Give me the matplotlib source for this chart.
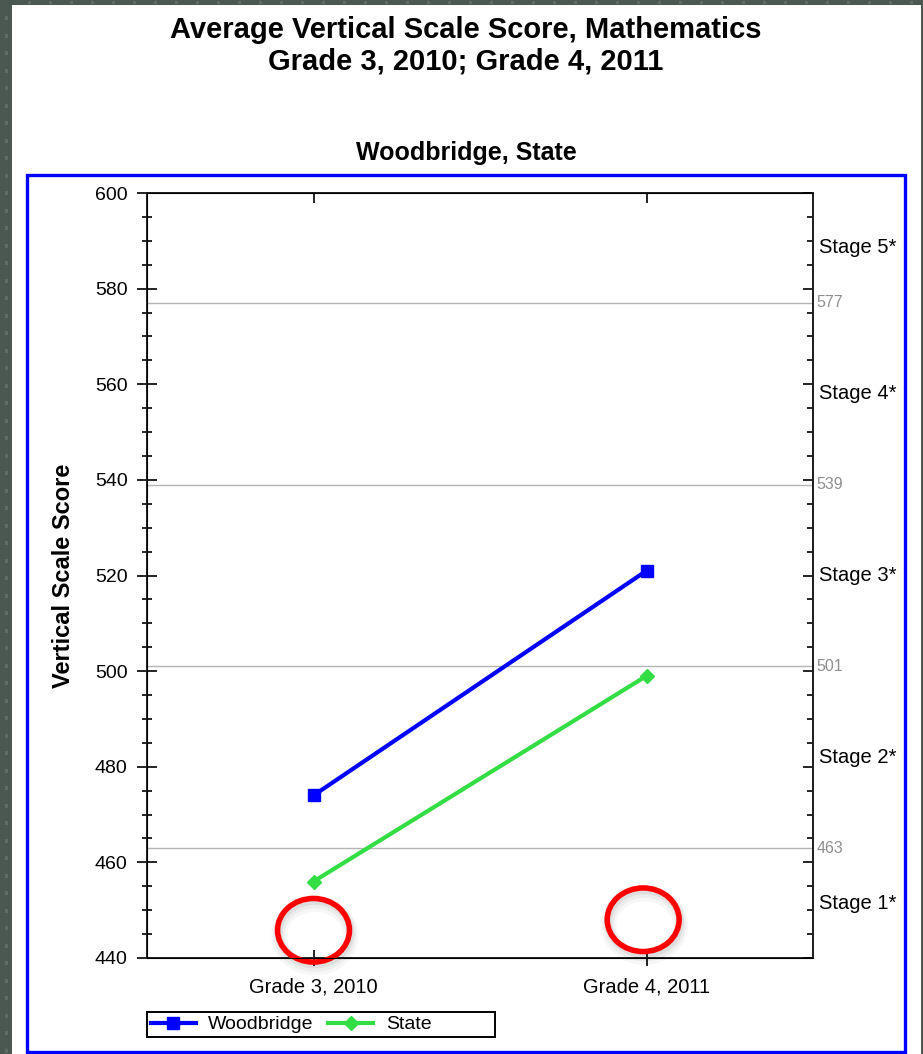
import numpy as np
import matplotlib.pyplot as plt
from matplotlib.patches import Rectangle, Ellipse
from matplotlib.ticker import MultipleLocator
import matplotlib.transforms as mtransforms

plt.rcParams['font.family'] = ['Liberation Sans', 'DejaVu Sans']

# data
grades = ['Grade 3, 2010', 'Grade 4, 2011']
woodbridge = [474, 521]
state = [456, 499]
cut_scores = [463, 501, 539, 577]
stages = ['Stage 1*', 'Stage 2*', 'Stage 3*', 'Stage 4*', 'Stage 5*']
y_min, y_max = 440, 600
# red circles drawn over the picture (x index, y value)
circle_x = [0, 0.99]
circle_y = [445.8, 448.0]

W, H = 923, 1054
fig = plt.figure(figsize=(W / 100, H / 100), dpi=100)
fig.patch.set_facecolor('#4b5751')

# slide background: white panel and dotted dark strips
fig.patches.append(Rectangle((12 / W, 0), (921 - 12) / W, 1 - 5 / H,
                             transform=fig.transFigure, facecolor='white',
                             edgecolor='none', zorder=-3))
dot_y = np.arange(18, H, 17.5)
dot_x = np.arange(28, W - 10, 21)
fig.patches += [Rectangle((5 / W, 1 - (y + 2) / H), 3 / W, 4 / H, transform=fig.transFigure,
                          facecolor='#5f6b65', edgecolor='none', zorder=-3) for y in dot_y]
fig.patches += [Rectangle((x / W, 1 - 4 / H), 3 / W, 3 / H, transform=fig.transFigure,
                          facecolor='#5f6b65', edgecolor='none', zorder=-3) for x in dot_x]

# blue frame around the chart
fig.patches.append(Rectangle((27 / W, 1 - 1052 / H), (905 - 27) / W, (1052 - 175) / H,
                             transform=fig.transFigure, fill=False,
                             edgecolor='#0000ff', linewidth=2.4, zorder=-2))

fig.text(466 / W, 1 - 30 / H, 'Average Vertical Scale Score, Mathematics',
         ha='center', va='center', fontsize=21, fontweight='bold')
fig.text(466 / W, 1 - 62 / H, 'Grade 3, 2010; Grade 4, 2011',
         ha='center', va='center', fontsize=21, fontweight='bold')
fig.text(466 / W, 1 - 153 / H, 'Woodbridge, State',
         ha='center', va='center', fontsize=18, fontweight='bold')

ax = fig.add_axes([147 / W, 1 - 958 / H, (813 - 147) / W, (958 - 193) / H])
ax.set_facecolor('none')
x = np.arange(len(grades))

for c in cut_scores:
    ax.axhline(c, color='#b4b4b4', linewidth=1.0, zorder=1)

ax.plot(x, woodbridge, color='#0000ff', linewidth=3, marker='s', markersize=8,
        label='Woodbridge', zorder=3)
ax.plot(x, state, color='#33dd44', linewidth=3, marker='D', markersize=7,
        label='State', zorder=3)

ax.set_xlim(-0.5, 1.5)
ax.set_ylim(y_min, y_max)
ax.set_xticks(x)
ax.set_xticklabels(grades, fontsize=14.5)
ax.yaxis.set_major_locator(MultipleLocator(20))
ax.yaxis.set_minor_locator(MultipleLocator(5))
ax.tick_params(axis='y', which='major', direction='inout', length=14, width=1.2,
               labelsize=14, pad=7)
ax.tick_params(axis='y', which='minor', direction='inout', length=7, width=1.2)
ax.tick_params(axis='x', which='major', direction='inout', length=12, width=1.2, pad=8)
for s in ax.spines.values():
    s.set_linewidth(1.4)
    s.set_color('#222222')
ax.set_ylabel('Vertical Scale Score', fontsize=17, fontweight='bold', labelpad=14)

# right side ticks (inside only)
ax2 = ax.twinx()
ax2.set_ylim(y_min, y_max)
ax2.yaxis.set_major_locator(MultipleLocator(20))
ax2.yaxis.set_minor_locator(MultipleLocator(5))
ax2.tick_params(axis='y', which='major', direction='in', length=7, width=1.2, labelright=False)
ax2.tick_params(axis='y', which='minor', direction='in', length=4, width=1.2)
ax2.spines['right'].set_linewidth(1.4)
ax2.spines['right'].set_color('#222222')

# top ticks (inside only)
top = ax.secondary_xaxis('top')
top.set_xticks(x)
top.tick_params(direction='in', length=7, width=1.2, labeltop=False)
top.spines['top'].set_linewidth(1.4)

# cut score labels and stage names on the right
trans = mtransforms.blended_transform_factory(ax.transAxes, ax.transData)
for c in cut_scores:
    ax.text(1.005, c, str(c), transform=trans, ha='left', va='center',
            fontsize=11.5, color='#8f8f8f')
bounds = [y_min] + cut_scores + [y_max]
for i, name in enumerate(stages):
    ax.text(1.009, (bounds[i] + bounds[i + 1]) / 2, name, transform=trans,
            ha='left', va='center', fontsize=14.5)

# red circles with a soft shadow
for cx, cy in zip(circle_x, circle_y):
    for k, a in enumerate([0.06, 0.04, 0.03]):
        ax.add_patch(Ellipse((cx + 0.004, cy - 0.6 - 0.3 * k), 0.216, 13.3, fill=False,
                             edgecolor='black', alpha=a, linewidth=5 + 3 * k,
                             clip_on=False, zorder=4))
    ax.add_patch(Ellipse((cx, cy), 0.216, 13.3, fill=False, edgecolor='#ff0000',
                         linewidth=4, clip_on=False, zorder=5))

# legend with its own wider box
leg = ax.legend(loc='center left', bbox_to_anchor=(151 / W, 1 - 1024.5 / H),
                bbox_transform=fig.transFigure, ncol=2, frameon=False, fontsize=14,
                borderaxespad=0, borderpad=0, handlelength=2.3, handletextpad=0.65,
                columnspacing=0.75)
fig.patches.append(Rectangle((147 / W, 1 - 1037 / H), (495 - 147) / W, 25 / H,
                             transform=fig.transFigure, fill=False,
                             edgecolor='black', linewidth=1.4, zorder=2))

fig.savefig('out.png', dpi=100, facecolor=fig.get_facecolor())
